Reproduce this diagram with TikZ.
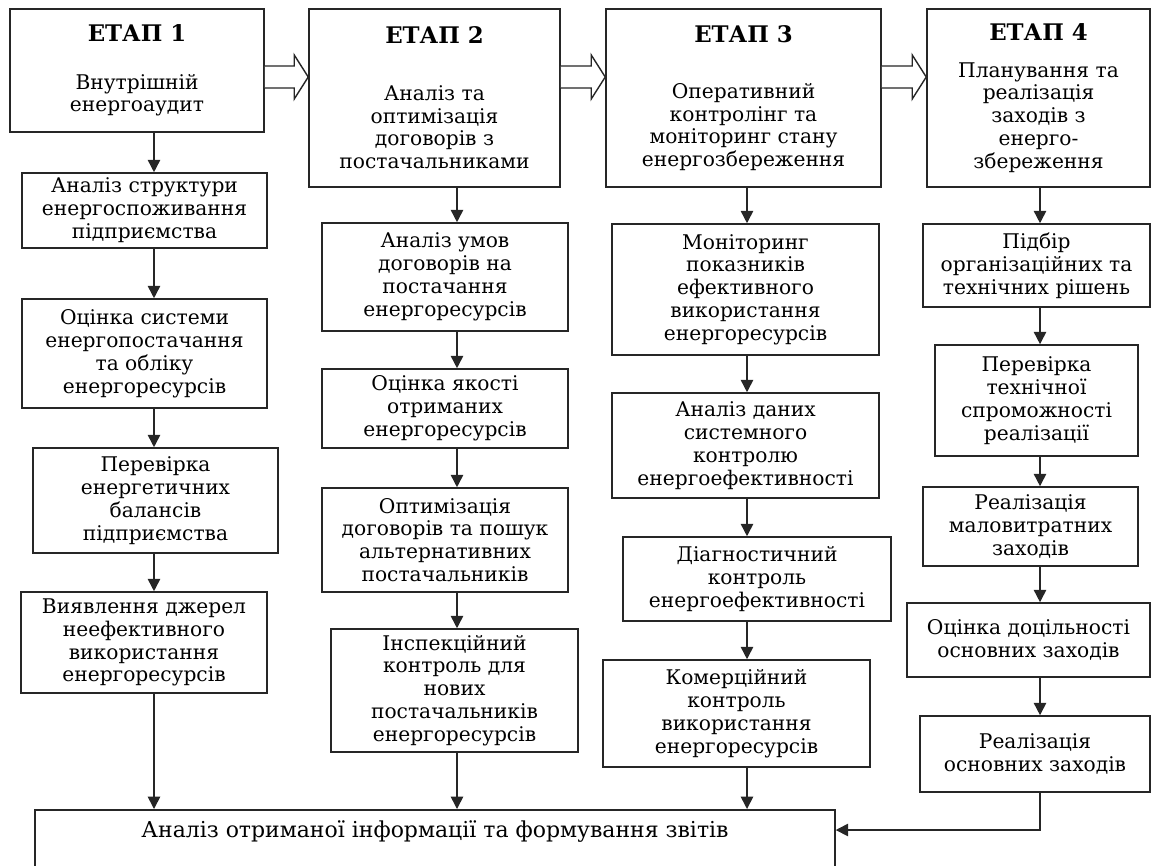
\documentclass[tikz,border=0pt]{standalone}
\usepackage{fontspec}
\setmainfont{DejaVu Serif}
\usetikzlibrary{arrows.meta,calc}
\newcommand{\etap}[1]{{\fontsize{13}{15}\selectfont\bfseries ЕТАП #1}}
\begin{document}
\begin{tikzpicture}[x=0.02cm, y=-0.02cm,
			box/.style={draw=black!85, line width=0.9pt, align=center, inner sep=2pt, font=\fontsize{11.5}{13}\selectfont},
			stage/.style={box, minimum height=3.56cm},
			myarrow/.style={-{Triangle[length=7pt,width=7pt]}, line width=0.9pt, black!85},
			hollow/.style={draw=black!85, line width=0.8pt, fill=white}
			]
			\useasboundingbox (0,0) rectangle (1151,865);
			% stages
			\node[box, minimum width=5.08cm, minimum height=2.46cm] (S1) at (137,70.5) {\etap{1}\\[14pt]Внутрішній\\енергоаудит};
			\node[stage, minimum width=5.02cm] (S2) at (434.5,98) {\etap{2}\\[19pt]Аналіз та\\оптимізація\\договорів з\\постачальниками};
			\node[stage, minimum width=5.5cm] (S3) at (743.5,98) {\etap{3}\\[19pt]Оперативний\\контролінг та\\моніторинг стану\\енергозбереження};
			\node[stage, minimum width=4.46cm] (S4) at (1038.5,98) {\etap{4}\\[8pt]Планування та\\реалізація\\заходів з\\енерго-\\збереження};
			\coordinate (c1) at (154,0);
			\coordinate (c2) at (457,0);
			\coordinate (c3) at (747,0);
			\coordinate (c4) at (1040,0);
			% column 1
			\node[box, minimum width=4.9cm, minimum height=1.5cm] (B1a) at (144.5,210.5) {Аналіз структури\\енергоспоживання\\підприємства};
			\node[box, minimum width=4.9cm, minimum height=2.18cm] (B1b) at (144.5,353.5) {Оцінка системи\\енергопостачання\\та обліку\\енергоресурсів};
			\node[box, minimum width=4.9cm, minimum height=2.1cm] (B1c) at (155.5,500.5) {Перевірка\\енергетичних\\балансів\\підприємства};
			\node[box, minimum width=4.92cm, minimum height=2.02cm] (B1d) at (144,642.5) {Виявлення джерел\\неефективного\\використання\\енергоресурсів};
			% column 2
			\node[box, minimum width=4.92cm, minimum height=2.16cm] (B2a) at (445,277) {Аналіз умов\\договорів на\\постачання\\енергоресурсів};
			\node[box, minimum width=4.92cm, minimum height=1.58cm] (B2b) at (445,408.5) {Оцінка якості\\отриманих\\енергоресурсів};
			\node[box, minimum width=4.92cm, minimum height=2.08cm] (B2c) at (445,540) {Оптимізація\\договорів та пошук\\альтернативних\\постачальників};
			\node[box, minimum width=4.94cm, minimum height=2.46cm] (B2d) at (454.5,690.5) {Інспекційний\\контроль для\\нових\\постачальників\\енергоресурсів};
			% column 3
			\node[box, minimum width=5.34cm, minimum height=2.62cm] (B3a) at (745.5,289.5) {Моніторинг\\показників\\ефективного\\використання\\енергоресурсів};
			\node[box, minimum width=5.34cm, minimum height=2.1cm] (B3b) at (745.5,445.5) {Аналіз даних\\системного\\контролю\\енергоефективності};
			\node[box, minimum width=5.36cm, minimum height=1.68cm] (B3c) at (757,579) {Діагностичний\\контроль\\енергоефективності};
			\node[box, minimum width=5.34cm, minimum height=2.14cm] (B3d) at (736.5,713.5) {Комерційний\\контроль\\використання\\енергоресурсів};
			% column 4
			\node[box, minimum width=4.54cm, minimum height=1.66cm] (B4a) at (1036.5,265.5) {Підбір\\організаційних та\\технічних рішень};
			\node[box, minimum width=4.06cm, minimum height=2.22cm] (B4b) at (1036.5,400.5) {Перевірка\\технічної\\спроможності\\реалізації};
			\node[box, minimum width=4.3cm, minimum height=1.58cm] (B4c) at (1030.5,526.5) {Реалізація\\маловитратних\\заходів};
			\node[box, minimum width=4.86cm, minimum height=1.48cm] (B4d) at (1028.5,640) {Оцінка доцільності\\основних заходів};
			\node[box, minimum width=4.6cm, minimum height=1.52cm] (B4e) at (1035,754) {Реалізація\\основних заходів};
			% report box, runs past the bottom edge
			\node[box, anchor=north, minimum width=16cm, font=\fontsize{12.5}{15}\selectfont, text height=12pt, text depth=2cm, inner ysep=4pt] (report) at (435,809) {Аналіз отриманої інформації та формування звітів};
			% hollow arrows between stages
			\foreach \a/\b in {S1/S2,S2/S3,S3/S4}
				\draw[hollow] (\a.east |- 0,66) -- ($(\b.west |- 0,66)+(-14,0)$) -- ($(\b.west |- 0,55)+(-14,0)$) -- (\b.west |- 0,77) -- ($(\b.west |- 0,99)+(-14,0)$) -- ($(\b.west |- 0,88)+(-14,0)$) -- (\a.east |- 0,88);
			\draw[myarrow] (S1.south -| c1) -- (B1a.north -| c1);
			\draw[myarrow] (B1a.south -| c1) -- (B1b.north -| c1);
			\draw[myarrow] (B1b.south -| c1) -- (B1c.north -| c1);
			\draw[myarrow] (B1c.south -| c1) -- (B1d.north -| c1);
			\draw[myarrow] (B1d.south -| c1) -- (report.north -| c1);
			\draw[myarrow] (S2.south -| c2) -- (B2a.north -| c2);
			\draw[myarrow] (B2a.south -| c2) -- (B2b.north -| c2);
			\draw[myarrow] (B2b.south -| c2) -- (B2c.north -| c2);
			\draw[myarrow] (B2c.south -| c2) -- (B2d.north -| c2);
			\draw[myarrow] (B2d.south -| c2) -- (report.north -| c2);
			\draw[myarrow] (S3.south -| c3) -- (B3a.north -| c3);
			\draw[myarrow] (B3a.south -| c3) -- (B3b.north -| c3);
			\draw[myarrow] (B3b.south -| c3) -- (B3c.north -| c3);
			\draw[myarrow] (B3c.south -| c3) -- (B3d.north -| c3);
			\draw[myarrow] (B3d.south -| c3) -- (report.north -| c3);
			\draw[myarrow] (S4.south -| c4) -- (B4a.north -| c4);
			\draw[myarrow] (B4a.south -| c4) -- (B4b.north -| c4);
			\draw[myarrow] (B4b.south -| c4) -- (B4c.north -| c4);
			\draw[myarrow] (B4c.south -| c4) -- (B4d.north -| c4);
			\draw[myarrow] (B4d.south -| c4) -- (B4e.north -| c4);
			\coordinate (turn) at (c4 |- 0,830);
			\draw[myarrow] (B4e.south -| c4) -- (turn) -- (turn -| report.east); % to the report box
		\end{tikzpicture}
\end{document}
